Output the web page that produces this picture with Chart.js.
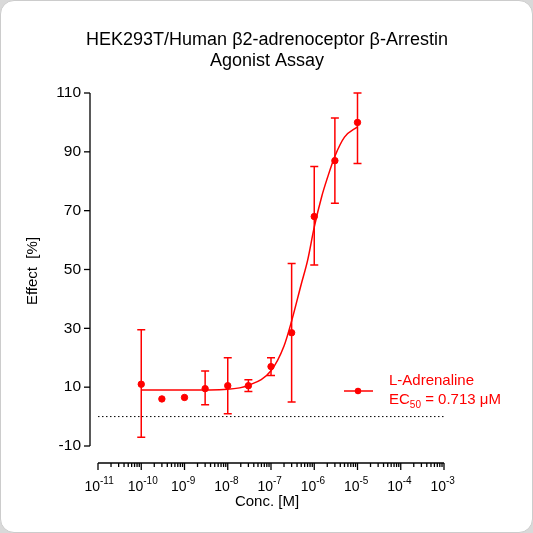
<!DOCTYPE html>
<html><head><meta charset="utf-8">
<script src="https://cdn.jsdelivr.net/npm/chart.js@4"></script>
<style>
html,body{margin:0;padding:0;background:#d9d9d9;}
#wrap{position:absolute;left:0;top:0;width:531px;height:531px;background:#fff;border:1px solid #ccc;border-radius:14px;overflow:hidden;}
canvas{display:block}
</style></head><body>
<div id="wrap"><canvas id="c" width="531" height="531"></canvas></div>
<script>
const concs=[1e-10,3e-10,1e-9,3e-9,1e-8,3e-8,1e-7,3e-7,1e-6,3e-6,1e-5];
const effect=[11,6,6.5,9.5,10.5,10.5,17,28.5,68,87,100];
const errLow=[-7,null,null,4,1,8.5,14,5,51.5,72.5,86];
const errHigh=[29.5,null,null,15.5,20,12.5,20,52,85,101.5,110];
const fitX=[1e-10,1e-9,1e-8,3e-8,1e-7,2e-7,3e-7,5e-7,7e-7,1e-6,1.5e-6,2e-6,3e-6,5e-6,1e-5];
const fitY=[9,9,9.3,10.6,15.6,24,32.5,45,53,64.4,75,81,88.5,95,98.5];
const yTicks=[-10,10,30,50,70,90,110];
const xExp=[-11,-10,-9,-8,-7,-6,-5,-4,-3];
const red='#ff0000';
const font='"Liberation Sans", Arial, sans-serif';
const overlay={id:'ov',afterDraw(ch){
 const c=ch.ctx,x=ch.scales.x,y=ch.scales.y;
 c.save();
 c.strokeStyle=red;c.lineWidth=1.5;
 concs.forEach((v,i)=>{if(errLow[i]==null)return;const px=x.getPixelForValue(v),a=y.getPixelForValue(errLow[i]),b=y.getPixelForValue(errHigh[i]);
  c.beginPath();c.moveTo(px,a);c.lineTo(px,b);c.moveTo(px-4,a);c.lineTo(px+4,a);c.moveTo(px-4,b);c.lineTo(px+4,b);c.stroke();});
 c.strokeStyle='#000';c.lineWidth=1;c.setLineDash([1.5,2.5]);
 const z=y.getPixelForValue(0);c.beginPath();c.moveTo(x.left,z);c.lineTo(x.right,z);c.stroke();c.setLineDash([]);
 c.lineWidth=1.3;const ax=89;
 c.beginPath();c.moveTo(ax,y.getPixelForValue(110));c.lineTo(ax,y.getPixelForValue(-10));c.stroke();
 c.fillStyle='#000';c.font='15.5px '+font;c.textAlign='right';c.textBaseline='middle';
 yTicks.forEach(t=>{const py=y.getPixelForValue(t);c.beginPath();c.moveTo(ax-6,py);c.lineTo(ax,py);c.stroke();c.fillText(String(t),ax-9,py);});
 const ay=462;c.beginPath();c.moveTo(x.left,ay);c.lineTo(x.right,ay);c.stroke();
 xExp.forEach((e,k)=>{const px=x.getPixelForValue(Math.pow(10,e));c.beginPath();c.moveTo(px,ay);c.lineTo(px,ay+7);c.stroke();
  if(k<xExp.length-1){for(let m=2;m<10;m++){const q=x.getPixelForValue(m*Math.pow(10,e));c.beginPath();c.moveTo(q,ay);c.lineTo(q,ay+4);c.stroke();}}
  c.font='14px '+font;c.textAlign='right';c.textBaseline='alphabetic';c.fillText('10',px+2,ay+28);
  c.font='10px '+font;c.textAlign='left';c.fillText(String(e),px+2,ay+21);});
 c.textAlign='center';c.font='18px '+font;c.fillText('HEK293T/Human β2-adrenoceptor β-Arrestin',266,44);c.fillText('Agonist Assay',266,65);
 c.font='15px '+font;c.fillText('Conc. [M]',266,505);
 c.save();c.translate(36,270);c.rotate(-Math.PI/2);c.fillText('Effect  [%]',0,0);c.restore();
 c.strokeStyle=red;c.fillStyle=red;c.lineWidth=1.5;c.beginPath();c.moveTo(343,390);c.lineTo(372,390);c.stroke();
 c.beginPath();c.arc(357,390,3.2,0,2*Math.PI);c.fill();
 c.textAlign='left';c.font='15px '+font;c.fillText('L-Adrenaline',388,384);
 c.fillText('EC',388,403);let w=c.measureText('EC').width;c.font='10px '+font;c.fillText('50',388+w,407);
 let w2=c.measureText('50').width;c.font='15px '+font;c.fillText(' = 0.713 μM',388+w+w2,403);
 c.restore();}};
new Chart(document.getElementById('c'),{
 type:'scatter',
 data:{datasets:[
  {data:concs.map((v,i)=>({x:v,y:effect[i]})),backgroundColor:red,borderColor:red,pointRadius:3.2,pointHoverRadius:3.2},
  {type:'line',data:fitX.map((v,i)=>({x:v,y:fitY[i]})),borderColor:red,borderWidth:1.5,pointRadius:0,cubicInterpolationMode:'monotone',fill:false}
 ]},
 options:{responsive:false,animation:false,events:[],
  layout:{padding:{left:97,right:88,top:92,bottom:86}},
  plugins:{legend:{display:false},tooltip:{enabled:false}},
  scales:{x:{type:'logarithmic',min:1e-11,max:1e-3,display:false},y:{min:-10,max:110,display:false}}},
 plugins:[overlay]});
</script></body></html>
